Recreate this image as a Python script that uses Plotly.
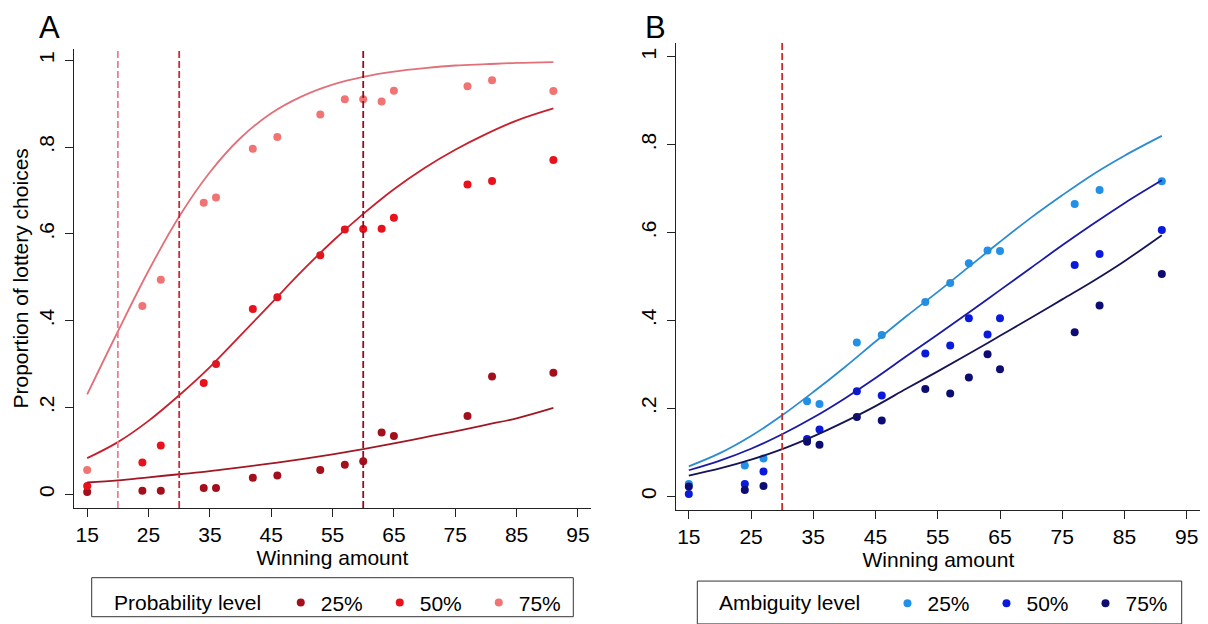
import plotly.graph_objects as go

# The page body has an 8px default margin, so the figure is drawn 8px in from the
# top-left corner; all layout positions below are given in window pixels.
OFF = 8
W, H = 1200, 616
FONT = "Liberation Sans, Arial, sans-serif"

# ---- data ----
amounts = [15, 24, 27, 34, 36, 42, 46, 53, 57, 60, 63, 65, 77, 81, 91]

prob25 = [0.005, 0.008, 0.008, 0.014, 0.014, 0.038, 0.043, 0.056, 0.068, 0.076, 0.142, 0.134, 0.180, 0.271, 0.280]
prob50 = [0.019, 0.073, 0.112, 0.256, 0.300, 0.427, 0.454, 0.551, 0.610, 0.611, 0.612, 0.637, 0.714, 0.722, 0.770]
prob75 = [0.056, 0.434, 0.494, 0.672, 0.684, 0.796, 0.823, 0.875, 0.910, 0.910, 0.905, 0.930, 0.940, 0.954, 0.929]

amb25 = [0.028, 0.070, 0.086, 0.216, 0.210, 0.350, 0.367, 0.442, 0.485, 0.530, 0.559, 0.558, 0.665, 0.697, 0.717]
amb50 = [0.005, 0.028, 0.056, 0.130, 0.152, 0.239, 0.229, 0.325, 0.343, 0.405, 0.368, 0.405, 0.526, 0.551, 0.606]
amb75 = [0.022, 0.014, 0.023, 0.124, 0.117, 0.180, 0.172, 0.244, 0.234, 0.270, 0.323, 0.289, 0.373, 0.434, 0.506]

fit_x = [15, 20, 25, 30, 35, 40, 45, 50, 55, 60, 65, 70, 75, 80, 85, 91]
fit_prob25 = [0.027, 0.032, 0.039, 0.046, 0.053, 0.062, 0.071, 0.081, 0.092, 0.104, 0.117, 0.131, 0.145, 0.160, 0.175, 0.199]
fit_prob50 = [0.083, 0.120, 0.169, 0.228, 0.293, 0.366, 0.440, 0.514, 0.583, 0.646, 0.703, 0.752, 0.794, 0.830, 0.861, 0.889]
fit_prob75 = [0.230, 0.375, 0.515, 0.640, 0.742, 0.821, 0.878, 0.917, 0.944, 0.962, 0.974, 0.982, 0.988, 0.991, 0.994, 0.996]
fit_amb25 = [0.068, 0.098, 0.137, 0.184, 0.237, 0.293, 0.352, 0.410, 0.465, 0.522, 0.579, 0.634, 0.685, 0.733, 0.775, 0.820]
fit_amb50 = [0.059, 0.081, 0.108, 0.141, 0.179, 0.222, 0.269, 0.319, 0.368, 0.418, 0.469, 0.520, 0.571, 0.620, 0.667, 0.719]
fit_amb75 = [0.047, 0.063, 0.083, 0.107, 0.136, 0.169, 0.205, 0.245, 0.284, 0.324, 0.365, 0.406, 0.448, 0.490, 0.535, 0.594]

level_names = ["25%", "50%", "75%"]
ref_lines_A = [20, 30, 60]
ref_lines_B = [30]

x_tick_vals = [15, 25, 35, 45, 55, 65, 75, 85, 95]
y_tick_vals = [0, 0.2, 0.4, 0.6, 0.8, 1]
y_tick_text = ["0", ".2", ".4", ".6", ".8", "1"]

# ---- styles ----
red_dots = ["#A3101C", "#E8121C", "#F07474"]
red_lines = ["#A01824", "#C8202C", "#E2707A"]
red_vlines = ["#E6808A", "#C42A3A", "#8E1020"]
blue_dots = ["#2290E6", "#0A1ADC", "#0C0C72"]
blue_lines = ["#2A8CD2", "#1A1AA6", "#141456"]
blue_vline = "#D02828"

NBSP = "\u00a0"
HAIR = "\u200a"


def fx(p):
    return (p - OFF) / W


def fy(p):
    return 1 - (p - OFF) / H


fig = go.Figure()

prob_pts = [prob25, prob50, prob75]
prob_fit = [fit_prob25, fit_prob50, fit_prob75]
amb_pts = [amb25, amb50, amb75]
amb_fit = [fit_amb25, fit_amb50, fit_amb75]

for i in range(3):
    fig.add_trace(go.Scatter(
        x=amounts, y=prob_pts[i], mode="markers", name=level_names[i],
        marker=dict(size=8, color=red_dots[i]), xaxis="x", yaxis="y",
        legend="legend", showlegend=True))
for i in range(3):
    fig.add_trace(go.Scatter(
        x=fit_x, y=prob_fit[i], mode="lines",
        line=dict(color=red_lines[i], width=1.8, shape="spline", smoothing=1.0),
        xaxis="x", yaxis="y", showlegend=False, hoverinfo="skip"))

for i in range(3):
    fig.add_trace(go.Scatter(
        x=amounts, y=amb_pts[i], mode="markers", name=level_names[i],
        marker=dict(size=8, color=blue_dots[i]), xaxis="x2", yaxis="y2",
        legend="legend2", showlegend=True))
for i in range(3):
    fig.add_trace(go.Scatter(
        x=fit_x, y=amb_fit[i], mode="lines",
        line=dict(color=blue_lines[i], width=1.8, shape="spline", smoothing=1.0),
        xaxis="x2", yaxis="y2", showlegend=False, hoverinfo="skip"))

shapes = []
for i, v in enumerate(ref_lines_A):
    shapes.append(dict(type="line", xref="x", yref="y domain", x0=v, x1=v, y0=0, y1=1,
                       line=dict(color=red_vlines[i], width=1.8, dash="7px,3px")))
for v in ref_lines_B:
    shapes.append(dict(type="line", xref="x2", yref="y2 domain", x0=v, x1=v, y0=0, y1=1,
                       line=dict(color=blue_vline, width=1.8, dash="7px,3px")))
# legend frames
shapes.append(dict(type="rect", xref="paper", yref="paper", x0=fx(91.7), x1=fx(573.3),
                   y0=fy(622.7), y1=fy(583.3), line=dict(color="#333", width=1)))
shapes.append(dict(type="rect", xref="paper", yref="paper", x0=fx(697.3), x1=fx(1181.7),
                   y0=fy(630), y1=fy(586.7), line=dict(color="#333", width=1)))

axis_common = dict(showline=True, linecolor="#222", linewidth=1, ticks="outside", ticklen=8,
                   tickcolor="#222", showgrid=False, zeroline=False, ticklabeloverflow="allow",
                   tickfont=dict(family=FONT, size=21, color="black"))

fig.update_layout(
    width=W, height=H, margin=dict(l=0, r=0, t=0, b=0),
    paper_bgcolor="white", plot_bgcolor="white",
    font=dict(family=FONT, size=21, color="black"),
    shapes=shapes,
    xaxis=dict(domain=[fx(74.3), fx(590.5)], range=[12.9, 97.05], tickvals=x_tick_vals,
               anchor="y", title=dict(text="Winning amount", standoff=0, font=dict(size=21)), **axis_common),
    yaxis=dict(domain=[fy(513), fy(49)], range=[-0.032, 1.027], tickvals=y_tick_vals, ticktext=y_tick_text,
               tickangle=-90, anchor="x", ticklabelstandoff=3,
               title=dict(text="Proportion of lottery choices", standoff=0, font=dict(size=21)), **axis_common),
    xaxis2=dict(domain=[fx(676.3), fx(1200.4)], range=[12.99, 97.2], tickvals=x_tick_vals,
                anchor="y2", title=dict(text="Winning amount", standoff=0, font=dict(size=21)), **axis_common),
    yaxis2=dict(domain=[fy(515), fy(43.3)], range=[-0.0316, 1.0316], tickvals=y_tick_vals, ticktext=y_tick_text,
                tickangle=-90, anchor="x2", ticklabelstandoff=3, **axis_common),
    legend=dict(orientation="h", x=fx(112), xanchor="left", y=fy(608.7), yanchor="middle",
                title=dict(text="Probability level" + NBSP * 2, side="left", font=dict(size=21)),
                font=dict(size=21), entrywidth=54, entrywidthmode="pixels",
                bgcolor="rgba(0,0,0,0)", borderwidth=0),
    legend2=dict(orientation="h", x=fx(717), xanchor="left", y=fy(609.7), yanchor="middle",
                 title=dict(text="Ambiguity level" + NBSP * 3 + HAIR, side="left", font=dict(size=21)),
                 font=dict(size=21), entrywidth=54, entrywidthmode="pixels",
                 bgcolor="rgba(0,0,0,0)", borderwidth=0),
    annotations=[
        dict(text="A", xref="paper", yref="paper", x=fx(49), y=1, showarrow=False,
             font=dict(family=FONT, size=31, color="black"), xanchor="center", yanchor="top"),
        dict(text="B", xref="paper", yref="paper", x=fx(655), y=1, showarrow=False,
             font=dict(family=FONT, size=31, color="black"), xanchor="center", yanchor="top"),
    ],
)

fig.write_html("out.html")
